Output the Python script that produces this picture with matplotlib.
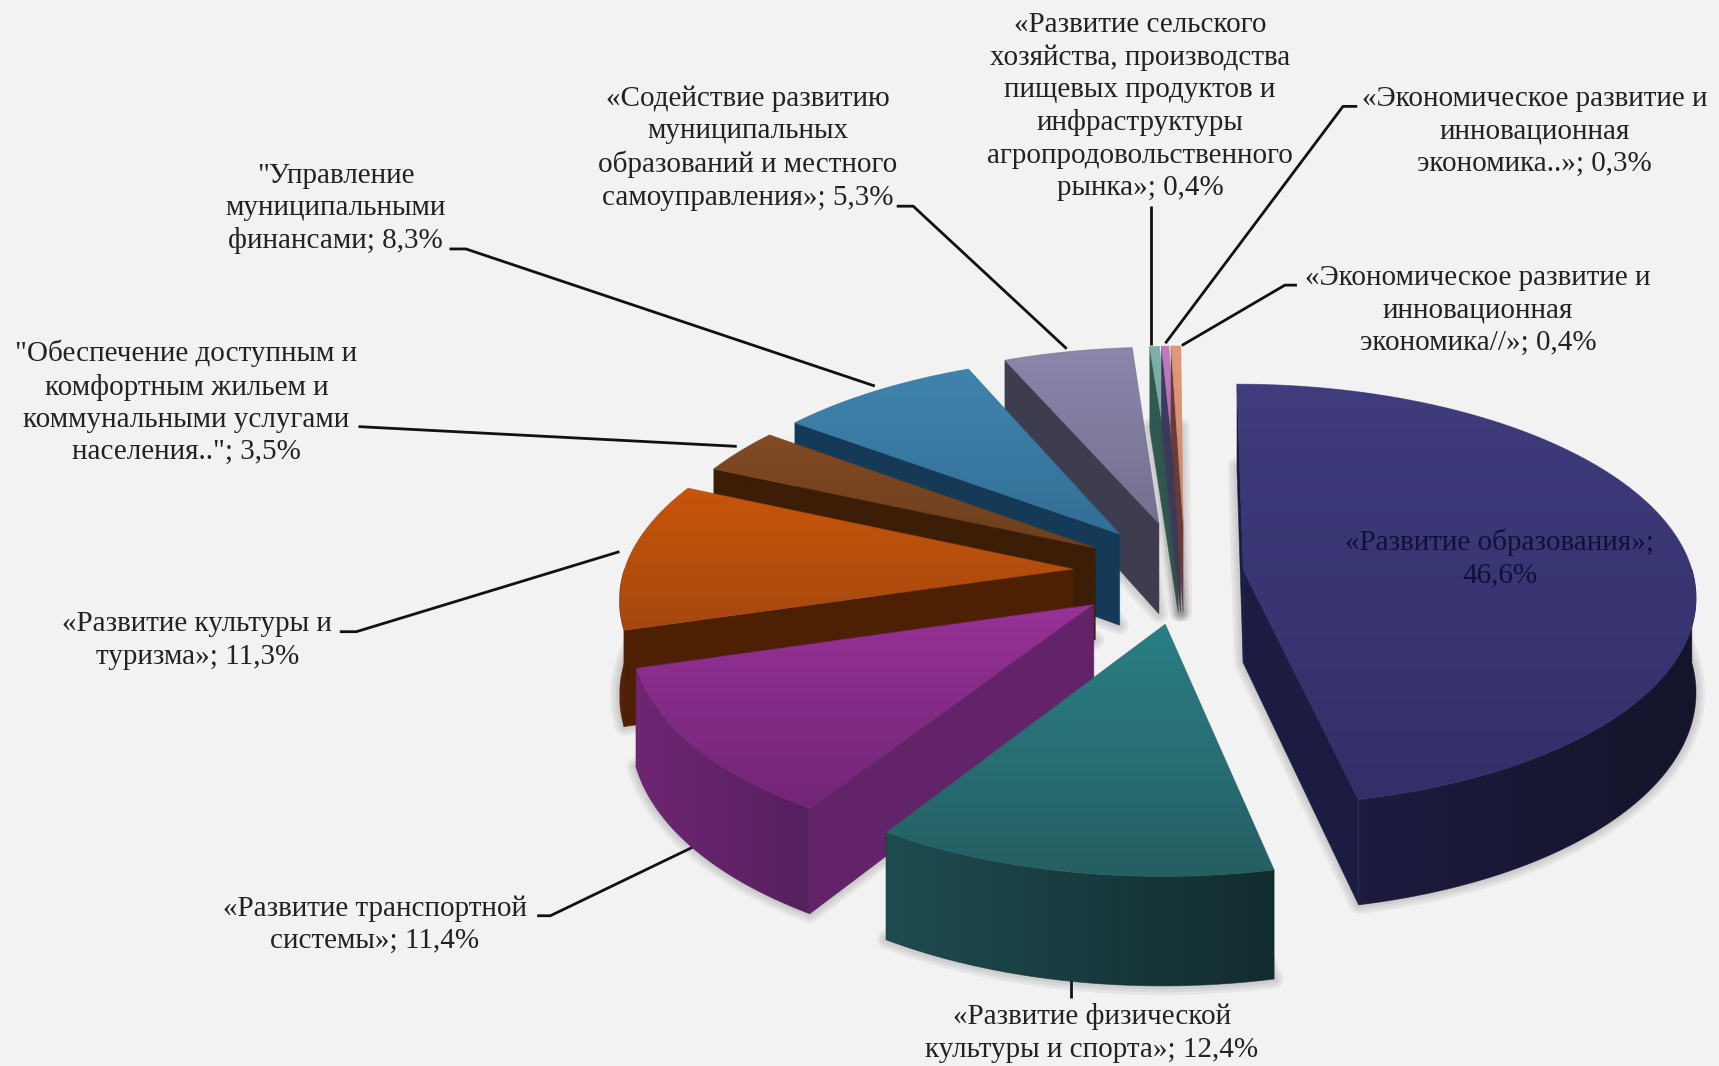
import numpy as np
import matplotlib
matplotlib.use("Agg")
import matplotlib.pyplot as plt
from matplotlib.patches import Polygon
from matplotlib.colors import LinearSegmentedColormap

# --- data ---
categories = [
    "«Развитие образования»;\n46,6%",
    "«Развитие физической\nкультуры и спорта»; 12,4%",
    "«Развитие транспортной\nсистемы»; 11,4%",
    "«Развитие культуры и\nтуризма»; 11,3%",
    "\"Обеспечение доступным и\nкомфортным жильем и\nкоммунальными услугами\nнаселения..\"; 3,5%",
    "\"Управление\nмуниципальными\nфинансами; 8,3%",
    "«Содействие развитию\nмуниципальных\nобразований и местного\nсамоуправления»; 5,3%",
    "«Развитие сельского\nхозяйства, производства\nпищевых продуктов и\nинфраструктуры\nагропродовольственного\nрынка»; 0,4%",
    "«Экономическое развитие и\nинновационная\nэкономика..»; 0,3%",
    "«Экономическое развитие и\nинновационная\nэкономика//»; 0,4%",
]
values = [46.6, 12.4, 11.4, 11.3, 3.5, 8.3, 5.3, 0.4, 0.3, 0.4]

# --- styling / layout ---
explode = [0.13, 0.245, 0.25, 0.25, 0.235, 0.24, 0.25, 0.25, 0.25, 0.25]
top_colors = [("#403c7d", "#322f69"), ("#2a7f86", "#255f62"), ("#973296", "#722578"),
              ("#c8550a", "#a5480f"), ("#824a24", "#6d3f1e"), ("#3f84ad", "#336f96"),
              ("#8b87ac", "#73708f"), ("#7fb0aa", "#6f9f9a"), ("#bd7cc0", "#a56aa8"),
              ("#e39a78", "#c98468")]
wall_colors = [("#1d1c40", "#14142a"), ("#1e4b50", "#122c2e"), ("#6f2673", "#55205e"),
               ("#5a2505", "#4e2003"), ("#4a2409", "#3c1d06"), ("#173f60", "#133650"),
               ("#3f3e50", "#3a394a"), ("#2f5a50", "#2f5a50"), ("#4a4570", "#4a4570"),
               ("#6a3a3a", "#6a3a3a")]
cut_colors = ["#1c1b42", "#1e4b50", "#622369", "#4e2003", "#3c1d06", "#143a58",
              "#3e3d4f", "#2f5a50", "#3c3a60", "#6a3a3a"]
draw_order = [7, 8, 9, 6, 5, 4, 3, 2, 1, 0]

label_xy = [(1368, 509), (996, 942), (342, 843), (180, 584), (170, 367),
            (306, 190), (682, 135), (1040, 97), (1400, 120), (1348, 283)]
leaders = [None,
           [(977, 893), (977, 910)],
           [(490, 835), (502, 835), (637, 770)],
           [(310, 576), (325, 576), (565, 503)],
           [(327, 389), (672, 407)],
           [(410, 227), (425, 227), (798, 352)],
           [(818, 188), (833, 188), (973, 318)],
           [(1050, 188), (1050, 315)],
           [(1238, 97), (1225, 97), (1063, 313)],
           [(1183, 260), (1172, 260), (1078, 315)]]

CX, CY, A, B, D, P = 1081.0, 522.0, 410.0, 190.0, 85.0, 0.12
BG = "#f2f2f2"

fig = plt.figure(figsize=(17.19, 10.66), dpi=100, facecolor=BG)
ax = fig.add_axes([0, 0, 1, 1])
ax.set_facecolor(BG)
ax.axis("off")


def project(X, Y, depth=0.0):
    s = 1.0 / (1.0 - P * np.asarray(Y))
    return np.column_stack([CX + A * np.asarray(X) * s * np.ones_like(s),
                            CY + B * np.asarray(Y) * s + depth * D * s])


def grad_fill(pts, c0, c1, horizontal=False, z=1):
    poly = Polygon(pts, closed=True, transform=ax.transData, fc="none", ec="none")
    ax.add_patch(poly)
    cmap = LinearSegmentedColormap.from_list("g", [c0, c1])
    g = np.linspace(0, 1, 64)
    g = g[None, :] if horizontal else g[:, None]
    xmin, ymin = pts.min(axis=0)
    xmax, ymax = pts.max(axis=0)
    im = ax.imshow(g, cmap=cmap, vmin=0, vmax=1, aspect="auto", origin="upper",
                   extent=(xmin, xmax, ymax, ymin), zorder=z, interpolation="bilinear")
    im.set_clip_path(poly)
    ax.add_patch(Polygon(pts, closed=True, fc="none", ec=c1, lw=0.6, zorder=z, alpha=0.6))


def area(p):
    x, y = p[:, 0], p[:, 1]
    return 0.5 * np.sum(x * np.roll(y, -1) - np.roll(x, -1) * y)


fracs = np.array(values) / 100.0
edges = np.concatenate([[0], np.cumsum(fracs)]) * 360.0
z = 1
for i in draw_order:
    t0, t1 = edges[i], edges[i + 1]
    mid = np.radians((t0 + t1) / 2)
    ex, ey = explode[i] * np.sin(mid), -explode[i] * np.cos(mid)
    th = np.radians(np.linspace(t0, t1, 160))
    rx, ry = ex + np.sin(th), ey - np.cos(th)

    apex_t = project([ex], [ey])[0]
    apex_b = project([ex], [ey], 1.0)[0]
    rim_t = project(rx, ry)
    rim_b = project(rx, ry, 1.0)

    # soft shadow cast around the base of the slice
    base = np.vstack([apex_b, rim_b])
    for w in (13, 9, 5):
        ax.add_patch(Polygon(base, closed=True, fc="none", ec="#404040", lw=w, alpha=0.07,
                             zorder=z, joinstyle="round"))
    z += 1

    # start cut face
    f0 = np.array([apex_t, rim_t[0], rim_b[0], apex_b])
    if area(f0) < 0:
        grad_fill(f0, cut_colors[i], cut_colors[i], z=z); z += 1
    # end cut face
    f1 = np.array([apex_t, rim_t[-1], rim_b[-1], apex_b])
    if area(f1) > 0:
        grad_fill(f1, cut_colors[i], cut_colors[i], z=z); z += 1
    # outer wall: only the part that faces the viewer
    lo, hi = max(t0, 90.0), min(t1, 270.0)
    if hi > lo:
        tw = np.radians(np.linspace(lo, hi, 120))
        wx, wy = ex + np.sin(tw), ey - np.cos(tw)
        wt = project(wx, wy)
        wb = project(wx, wy, 1.0)
        grad_fill(np.vstack([wt, wb[::-1]]), *wall_colors[i], horizontal=True, z=z); z += 1
    # top face
    grad_fill(np.vstack([apex_t, rim_t]), *top_colors[i], z=z); z += 1

z_top = z + 1
for i, pts in enumerate(leaders):
    if pts is None:
        continue
    xs, ys = zip(*pts)
    ax.plot(xs, ys, color="#111111", lw=2.0, zorder=0.5, solid_capstyle="butt")

for i, (lab, (x, y)) in enumerate(zip(categories, label_xy)):
    ax.text(x, y, lab, ha="center", va="center", family="Liberation Serif", fontsize=21,
            linespacing=1.31, color="#10103a" if i == 0 else "#222222", zorder=z_top)

ax.set_xlim(0, 1568)
ax.set_ylim(972, 0)
fig.savefig("out.png", dpi=100, facecolor=BG)
